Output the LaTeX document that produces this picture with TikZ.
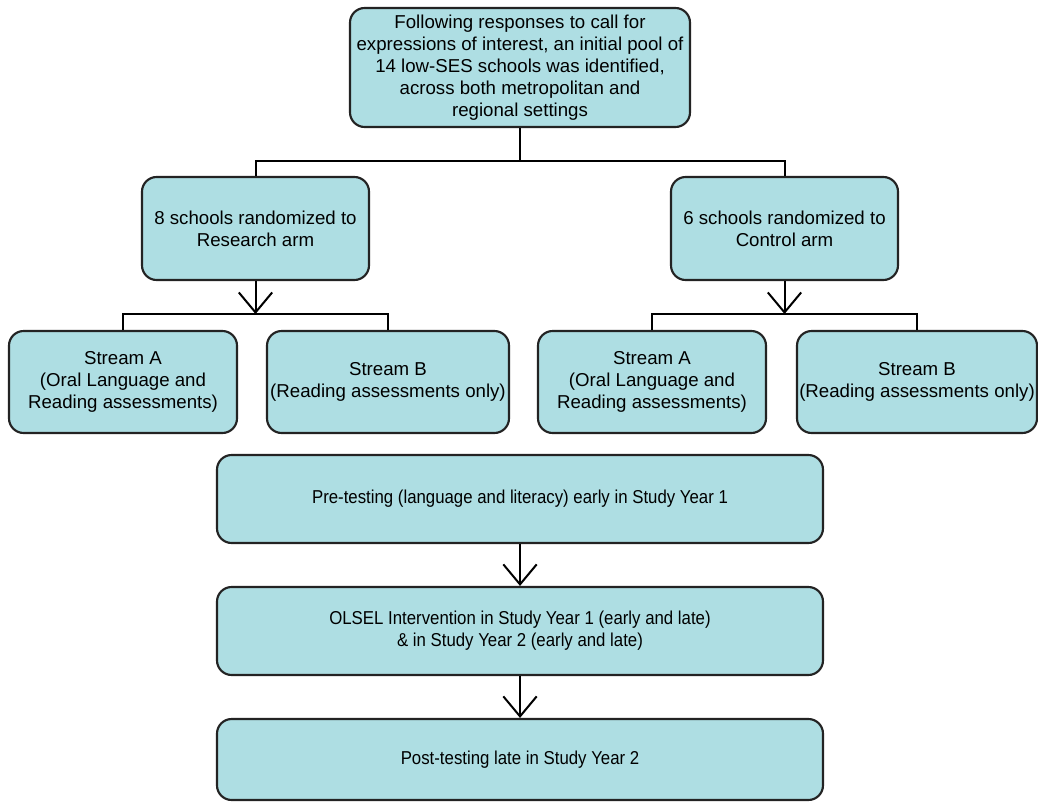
\documentclass[tikz,border=0pt]{standalone}
\usepackage{fontspec}
\setmainfont{Liberation Sans}
\usetikzlibrary{arrows.meta}
\usetikzlibrary{positioning}

\definecolor{boxfill}{RGB}{174,222,227}
\definecolor{boxline}{RGB}{35,35,35}

\tikzset{
  stagebox/.style={draw=boxline, fill=boxfill, line width=1.6pt, rounded corners=11pt,
    inner sep=0pt, align=center, font=\fontsize{14}{16.5}\selectfont},
  phasebox/.style={stagebox, minimum width=606*0.75pt,
    font=\fontsize{14}{16.5}\selectfont\addfontfeature{FakeStretch=0.9}},
  bracket/.style={line width=1.5pt},
  flowarrow/.style={line width=1.5pt, -{Straight Barb[length=15pt,width=25pt,line width=1.5pt]}}
}

\begin{document}
\begin{tikzpicture}[x=0.75pt, y=-0.75pt]
    \useasboundingbox (0, 0) rectangle (1038, 803);

    \node [stagebox, minimum width=340*0.75pt, minimum height=119*0.75pt] (pool) at (520, 67.5)
      {Following responses to call for\\expressions of interest, an initial pool of\\14 low-SES schools was identified,\\across both metropolitan and\\regional settings};

    \node [stagebox, minimum width=227*0.75pt, minimum height=103*0.75pt] (research) at (255.5, 228.5)
      {8 schools randomized to\\Research arm};
    \node [stagebox, minimum width=227*0.75pt, minimum height=103*0.75pt] (control) at (784.5, 228.5)
      {6 schools randomized to\\Control arm};

    \node [stagebox, minimum width=228*0.75pt, minimum height=102*0.75pt] (resA) at (123, 382)
      {Stream A\\(Oral Language and\\Reading assessments)};
    \node [stagebox, minimum width=242*0.75pt, minimum height=102*0.75pt] (resB) at (388, 382)
      {Stream B\\(Reading assessments only)};
    \node [stagebox, minimum width=228*0.75pt, minimum height=102*0.75pt] (conA) at (652, 382)
      {Stream A\\(Oral Language and\\Reading assessments)};
    \node [stagebox, minimum width=240*0.75pt, minimum height=102*0.75pt] (conB) at (917, 382)
      {Stream B\\(Reading assessments only)};

    \node [phasebox, minimum height=88*0.75pt] (pretest) at (520, 499)
      {Pre-testing (language and literacy) early in Study Year 1};
    \node [phasebox, minimum height=88*0.75pt] (olsel) at (520, 631)
      {OLSEL Intervention in Study Year 1 (early and late)\\\& in Study Year 2 (early and late)};
    \node [phasebox, minimum height=81*0.75pt] (posttest) at (520, 759.5)
      {Post-testing late in Study Year 2};

    % split of the pool into the two arms
    \coordinate (armsplit) at (520, 161);
    \draw [bracket] (pool.south) -- (armsplit);
    \draw [bracket] (research.north) |- (armsplit) -| (control.north);

    % streams under each arm
    \coordinate (ressplit) at (255.5, 314);
    \coordinate (consplit) at (784.5, 314);
    \draw [flowarrow] (research.south) -- (ressplit);
    \draw [flowarrow] (control.south) -- (consplit);
    \draw [bracket] (resA.north) |- (ressplit) -| (resB.north);
    \draw [bracket] (conA.north) |- (consplit) -| (conB.north);

    \draw [flowarrow] (pretest) -- (olsel);
    \draw [flowarrow] (olsel) -- (posttest);
\end{tikzpicture}
\end{document}
